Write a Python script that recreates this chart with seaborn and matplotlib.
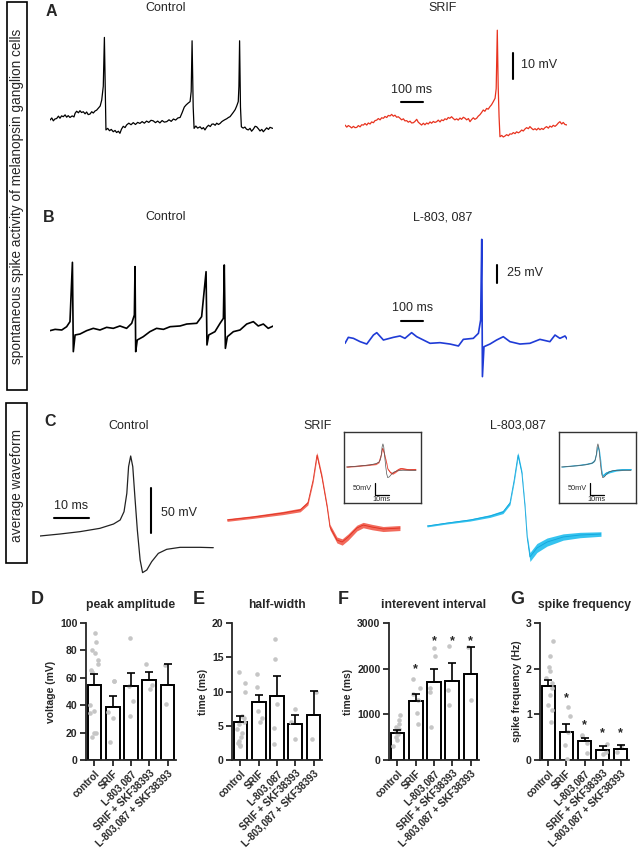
import numpy as np
import pandas as pd
import matplotlib
matplotlib.use('Agg')
import matplotlib.pyplot as plt
from matplotlib.patches import Rectangle
import seaborn as sns

# ---------------- data ----------------
# A: spontaneous spikes (time ms, membrane potential mV)
a_ctrl_t = [0, 8, 15, 22, 30, 38, 45, 52, 60, 68, 75, 82, 90, 100, 108, 113, 120, 128, 135, 142, 150,
            158, 165, 172, 180, 188, 195, 203, 210, 218, 226, 233, 240, 245, 250, 252, 260, 268, 276,
            285, 293, 300, 308, 315, 322, 330, 338, 345, 355, 365, 375, 385, 395, 405, 415, 425, 435,
            445, 455, 465, 475, 485, 495, 505, 515, 526, 536, 546, 556, 566, 576, 586, 595, 605, 613,
            622, 631, 636, 640, 645, 649, 657, 665, 676, 684, 691, 698, 706, 714, 722, 729, 736, 744,
            751, 759, 766, 774, 781, 789, 796, 804, 811, 819, 826, 834, 841, 848, 851, 854, 858, 862,
            870, 878, 885, 893, 901, 908, 916, 924, 931, 939, 946, 954, 961, 969, 976, 984, 991, 1003]
a_ctrl_v = [-60.0, -59.2, -60.3, -59.6, -59.4, -58.5, -59.3, -58.4, -58.7, -58.0, -58.9, -58.3, -59.0,
            -58.4, -58.8, -57.4, -56.6, -57.2, -56.4, -57.1, -56.8, -57.6, -56.9, -57.9, -57.7, -56.8,
            -57.3, -56.5, -56.2, -55.4, -54.6, -52.3, -47.0, -28.2, -55.0, -63.8, -63.2, -64.1, -63.6,
            -64.5, -64.0, -64.8, -64.3, -65.1, -63.5, -62.4, -62.9, -61.9, -61.2, -61.8, -61.0, -61.7,
            -60.9, -61.3, -60.6, -61.2, -60.4, -60.9, -60.1, -60.3, -61.0, -60.4, -61.1, -60.2, -60.8,
            -60.6, -59.9, -60.5, -59.6, -60.0, -59.2, -59.0, -57.2, -55.0, -54.2, -53.5, -52.9, -49.0,
            -29.5, -55.0, -63.2, -62.3, -63.1, -62.6, -63.4, -62.9, -63.8, -62.7, -62.0, -62.5, -61.6,
            -61.5, -62.0, -61.2, -61.7, -61.3, -60.6, -60.2, -59.8, -59.5, -59.0, -58.7, -57.8, -57.0,
            -56.0, -54.6, -52.9, -47.0, -29.5, -55.0, -62.6, -63.1, -62.7, -63.5, -63.8, -63.2, -64.3,
            -63.5, -62.4, -62.6, -63.4, -64.2, -63.6, -64.5, -63.7, -63.0, -63.6, -62.8, -63.2]
a_srif_t = [0, 8, 15, 23, 30, 38, 45, 53, 60, 68, 75, 83, 90, 98, 105, 113, 120, 128, 135, 143, 150,
            158, 165, 173, 180, 188, 195, 203, 210, 218, 225, 233, 240, 248, 255, 263, 270, 278, 285,
            293, 300, 308, 315, 323, 330, 338, 345, 353, 360, 368, 375, 383, 390, 398, 405, 413, 420,
            428, 435, 443, 450, 458, 465, 472, 480, 488, 495, 503, 510, 518, 525, 533, 541, 548, 556,
            563, 570, 578, 585, 593, 600, 608, 615, 623, 630, 638, 645, 653, 660, 668, 676, 681, 686,
            690, 694, 698, 706, 713, 721, 728, 736, 743, 751, 758, 766, 773, 781, 788, 796, 803, 811,
            818, 826, 833, 841, 848, 856, 863, 871, 878, 886, 893, 901, 908, 916, 923, 931, 938, 946,
            953, 961, 968, 976, 983, 991, 1002]
a_srif_v = [-60.0, -60.8, -60.2, -60.6, -61.1, -60.5, -61.0, -60.9, -60.2, -60.7, -59.9, -60.0, -59.4,
            -60.0, -59.2, -59.6, -58.8, -59.1, -58.3, -58.1, -57.5, -58.0, -57.2, -57.4, -56.7, -57.1,
            -56.3, -56.5, -55.9, -56.6, -56.2, -57.0, -56.8, -57.4, -58.0, -57.6, -58.4, -58.3, -58.9,
            -58.5, -59.2, -59.1, -58.6, -57.8, -58.9, -59.5, -60.0, -59.3, -59.9, -59.2, -59.6, -58.8,
            -59.3, -58.6, -59.0, -58.7, -58.1, -58.8, -58.0, -58.3, -57.6, -57.9, -57.1, -57.4, -56.8,
            -57.5, -58.0, -57.6, -58.1, -57.3, -57.8, -57.0, -57.4, -58.0, -57.5, -58.7, -57.9, -57.2,
            -57.8, -57.4, -56.6, -56.0, -55.2, -54.2, -54.7, -53.6, -53.9, -52.9, -52.2, -51.0, -49.7,
            -46.0, -23.5, -45.0, -56.8, -64.5, -64.0, -64.6, -64.2, -63.7, -64.1, -63.4, -63.5, -62.9,
            -63.3, -62.6, -63.0, -62.6, -61.9, -62.3, -61.5, -61.0, -61.4, -60.6, -61.3, -61.8, -61.4,
            -61.9, -61.2, -61.8, -61.3, -61.7, -61.0, -60.6, -61.2, -60.4, -60.8, -60.1, -60.5, -60.0,
            -59.2, -58.7, -59.6, -59.0, -59.8, -60.0]

# B
b_ctrl_t = [0, 23, 53, 75, 90, 101, 105, 113, 135, 165, 195, 225, 255, 285, 315, 345, 368, 380, 383,
            386, 393, 420, 450, 480, 511, 541, 586, 616, 661, 683, 703, 707, 715, 743, 766, 781, 785,
            790, 799, 826, 856, 886, 916, 938, 961, 983, 1006]
b_ctrl_v = [-60.9, -59.1, -60.0, -55.4, -48.4, 34.0, -90.1, -66.9, -65.6, -60.9, -57.7, -60.0, -56.3,
            -57.7, -54.4, -57.7, -50.7, -39.2, 28.0, -90.1, -73.9, -69.3, -62.3, -57.7, -59.1, -55.4,
            -54.4, -51.7, -50.7, -41.5, 21.0, -80.8, -66.9, -62.3, -50.7, -43.8, 30.3, -85.5, -69.3,
            -62.3, -60.0, -51.7, -48.4, -54.4, -51.7, -57.7, -54.4]
b_l803_t = [0, 15, 38, 68, 98, 128, 143, 173, 218, 248, 270, 300, 323, 353, 383, 428, 473, 511, 533,
            578, 601, 611, 616, 619, 626, 653, 683, 713, 743, 788, 833, 878, 923, 946, 968, 991, 1002]
b_l803_v = [-64.6, -56.3, -57.7, -62.3, -65.6, -53.1, -49.8, -60.0, -56.3, -54.4, -57.7, -49.8, -55.4,
            -60.0, -64.6, -63.7, -65.6, -68.3, -59.1, -57.7, -50.7, -32.2, 79.8, -110.9, -69.3, -65.6,
            -60.0, -55.4, -62.3, -65.6, -64.6, -59.1, -62.3, -53.1, -57.7, -54.4, -59.1]

# C: average waveforms (mean, SEM)
c_ctrl_t = [0, 5.7, 11.4, 17.1, 21.0, 22.9, 24.0, 24.8, 25.3, 25.9, 26.5, 27.1, 27.8, 28.6, 29.3,
            30.5, 31.9, 33.8, 36.2, 40.0, 45.7, 49.5]
c_ctrl_v = [-60, -57.8, -55.2, -51.5, -46.7, -42.2, -33.0, -12.6, 17.0, 28.9, 17.0, -16.3, -53.3,
            -86.7, -100.7, -97.8, -88.5, -79.3, -74.8, -72.6, -72.6, -73.0]
c_srif_t = [0, 7.4, 16.0, 20.9, 23.1, 24.6, 25.7, 27.1, 28.6, 29.4, 31.4, 32.9, 34.6, 37.1, 38.9,
            41.4, 44.6, 49.4]
c_srif_v = [-60, -56.7, -52.2, -48.9, -41.1, -15.6, 12.2, -12.2, -45.6, -67.8, -82.2, -84.4, -78.9,
            -68.9, -65.6, -67.8, -70.0, -68.9]
c_srif_sem = [1.5, 1.5, 1.8, 2.0, 2.2, 2.5, 3.0, 3.0, 2.8, 3.0, 3.3, 3.5, 3.5, 3.2, 3.0, 3.0, 2.8, 2.8]
c_l803_t = [0, 5.7, 12.3, 18.0, 21.7, 23.7, 24.9, 26.0, 27.1, 28.0, 28.6, 29.4, 31.4, 34.3, 38.9,
            43.7, 49.7]
c_l803_v = [-60, -56.7, -53.3, -48.9, -44.4, -34.4, -8.9, 18.9, -1.1, -38.9, -72.2, -94.4, -84.4,
            -77.8, -72.2, -70.0, -68.9]
c_l803_sem = [1.0, 1.0, 1.2, 1.5, 1.8, 2.0, 2.5, 3.0, 2.5, 2.5, 3.0, 5.0, 5.0, 4.5, 3.5, 3.0, 2.5]

# D-G: bar summaries
groups = ["control", "SRIF", "L-803,087", "SRIF + SKF38393", "L-803,087 + SKF38393"]

amp_mean = [55, 38.5, 54, 58.5, 55]
amp_sem = [7.5, 8.5, 9.5, 6, 15]
amp_pts = [[93, 86, 80, 78, 73, 70, 66, 64, 40, 36, 34, 20, 20, 17],
           [58, 58, 35, 31, 13], [89, 54, 43, 32], [70, 52, 55], [41, 69]]

hw_mean = [5.5, 8.4, 9.4, 5.3, 6.5]
hw_sem = [0.9, 1.1, 2.9, 1.3, 3.6]
hw_pts = [[12.9, 11.3, 10, 6.4, 6.1, 5.5, 5.3, 4.5, 3.9, 3.3, 2.8, 2.5, 2.2, 2.0],
          [12.6, 10.6, 7.1, 6.1, 5.6], [17.6, 14.7, 8.2, 4.7, 2.4], [7.4, 5.5, 3.0], [3.0, 10.0]]

iei_mean = [600, 1300, 1700, 1730, 1890]
iei_sem = [55, 155, 300, 395, 585]
iei_pts = [[980, 870, 790, 730, 670, 620, 580, 510, 440, 310],
           [1780, 1570, 1450, 1310, 1020, 790], [2460, 2280, 1570, 1500, 730],
           [2490, 1540, 1200], [1310, 2470]]
iei_stars = [None, 1980, 2610, 2610, 2610]

freq_mean = [1.61, 0.61, 0.41, 0.22, 0.24]
freq_sem = [0.14, 0.17, 0.07, 0.09, 0.09]
freq_pts = [[2.6, 2.28, 2.03, 1.94, 1.8, 1.68, 1.57, 1.43, 1.21, 1.1, 0.84],
            [1.17, 0.97, 0.62, 0.33, 0.02], [0.55, 0.53, 0.37, 0.16], [0.35, 0.18, 0.13], [0.18, 0.31]]
freq_stars = [None, 1.35, 0.77, 0.58, 0.58]

# ---------------- style ----------------
sns.set_style('ticks')
plt.rcParams['font.family'] = ['Liberation Sans', 'DejaVu Sans']

W, H = 644, 852
fig = plt.figure(figsize=(W / 100, H / 100), dpi=100)


def px_axes(x0, y0, x1, y1):
    return fig.add_axes([x0 / W, 1 - y1 / H, (x1 - x0) / W, (y1 - y0) / H])


def ftext(x, y, s, **kw):
    fig.text(x / W, 1 - y / H, s, **kw)


def trace_ax(box, xlim, ylim):
    ax = px_axes(*box)
    ax.set_xlim(*xlim)
    ax.set_ylim(*ylim)
    ax.axis('off')
    return ax


# side boxes
for (x0, y0, x1, y1), label, yc in [((7, 2, 27, 390), 'spontaneous spike activity of melanopsin ganglion cells', 196),
                                    ((6, 403, 27, 563), 'average waveform', 485)]:
    fig.add_artist(Rectangle((x0 / W, 1 - y1 / H), (x1 - x0) / W, (y1 - y0) / H,
                             transform=fig.transFigure, fill=False, lw=1.2, ec='black'))
    ftext(17, yc, label, rotation=90, ha='center', va='center', fontsize=9.8)

# ---------------- A ----------------
ftext(51, 12, 'A', fontsize=11.5, fontweight='bold', ha='center', va='center')
ftext(166, 8, 'Control', fontsize=9, ha='center', va='center')
ftext(443, 8, 'SRIF', fontsize=9, ha='center', va='center')
ax = trace_ax((50, 20, 273, 145), (0, 1004.5), (-69.6, -21.5))
sns.lineplot(x=a_ctrl_t, y=a_ctrl_v, ax=ax, color='black', lw=0.9, estimator=None, sort=False)
ax = trace_ax((345, 25, 567, 150), (0, 1000), (-69.6, -21.5))
sns.lineplot(x=a_srif_t, y=a_srif_v, ax=ax, color='#e8321e', lw=0.9, estimator=None, sort=False)
ax.plot([252, 352], [-51.2, -51.2], color='black', lw=1.5)
ax.text(300, -46.5, '100 ms', ha='center', va='center', fontsize=9)
ax.plot([757, 757], [-42.3, -32.3], color='black', lw=1.5)
ax.text(791, -36.9, '10 mV', ha='left', va='center', fontsize=9)

# ---------------- B ----------------
ftext(49, 217, 'B', fontsize=11.5, fontweight='bold', ha='center', va='center')
ftext(166, 217, 'Control', fontsize=9, ha='center', va='center')
ftext(443, 217, 'L-803, 087', fontsize=9, ha='center', va='center')
ax = trace_ax((50, 250, 273, 365), (0, 1004.5), (-108.6, 51.1))
sns.lineplot(x=b_ctrl_t, y=b_ctrl_v, ax=ax, color='black', lw=1.2, estimator=None, sort=False)
ax = trace_ax((345, 230, 567, 385), (0, 1000), (-122.5, 92.8))
sns.lineplot(x=b_l803_t, y=b_l803_v, ax=ax, color='#1f3bd6', lw=1.2, estimator=None, sort=False)
ax.plot([250, 350], [-33.6, -33.6], color='black', lw=1.5)
ax.text(306, -16, '100 ms', ha='center', va='center', fontsize=9)
ax.plot([685, 685], [19.2, 44.2], color='black', lw=1.5)
ax.text(728, 33.5, '25 mV', ha='left', va='center', fontsize=9)

# ---------------- C ----------------
ftext(50, 422, 'C', fontsize=11.5, fontweight='bold', ha='center', va='center')
ftext(129, 426, 'Control', fontsize=9, ha='center', va='center')
ftext(318, 426, 'SRIF', fontsize=9, ha='center', va='center')
ftext(518, 426, 'L-803,087', fontsize=9, ha='center', va='center')

ax = trace_ax((40, 445, 214, 580), (0, 49.7), (-108.9, 41.1))
sns.lineplot(x=c_ctrl_t, y=c_ctrl_v, ax=ax, color='#222222', lw=0.9, estimator=None, sort=False)
ax.plot([4, 14], [-40, -40], color='black', lw=1.5)
ax.text(8.8, -26.7, '10 ms', ha='center', va='center', fontsize=9)
ax.plot([31.7, 31.7], [-56.7, -6.7], color='black', lw=1.5)
ax.text(34.5, -34.1, '50 mV', ha='left', va='center', fontsize=9)


def band(ax, t, v, sem, fill, line, lw=0.6):
    t, v, sem = np.array(t), np.array(v), np.array(sem)
    ax.fill_between(t, v - sem, v + sem, color=fill, lw=0)
    sns.lineplot(x=t, y=v, ax=ax, color=line, lw=lw, estimator=None, sort=False)


ax = trace_ax((227, 445, 401, 560), (0, 49.7), (-104.4, 23.3))
band(ax, c_srif_t, c_srif_v, c_srif_sem, '#f26a5c', '#e0301f')
ax = trace_ax((427, 445, 601, 565), (0, 49.7), (-103.3, 30.0))
band(ax, c_l803_t, c_l803_v, c_l803_sem, '#35c3ef', '#12a6dc')

# insets
for box, t, v, sem, fill, line in [((344, 432, 421, 503), c_srif_t, c_srif_v, c_srif_sem, '#f26a5c', '#e0301f'),
                                   ((559, 432, 636, 503), c_l803_t, c_l803_v, c_l803_sem, '#35c3ef', '#12a6dc')]:
    ax = px_axes(*box)
    ax.set_xlim(-1.9, 53.1)
    ax.set_ylim(-198.5, 74.6)
    ax.set_xticks([])
    ax.set_yticks([])
    for sp in ax.spines.values():
        sp.set_visible(True)
        sp.set_linewidth(1.0)
        sp.set_color('#333333')
    band(ax, t, v, sem, fill, line, lw=0.5)
    ax.plot(c_ctrl_t, c_ctrl_v, color='#555555', lw=0.5)
    ax.plot([20.2, 20.2, 30.2], [-121.5, -166.5, -166.5], color='black', lw=0.9)
    ax.text(17.9, -141, '50mV', ha='right', va='center', fontsize=5.3)
    ax.text(25.2, -172, '10ms', ha='center', va='top', fontsize=5.3)


# ---------------- D-G ----------------
def bar_panel(box, means, sems, pts, ymax, ystep, ylabel, title, stars=None):
    ax = px_axes(*box)
    df_m = pd.DataFrame({'group': groups, 'value': means})
    sns.barplot(data=df_m, x='group', y='value', order=groups, color='white', edgecolor='black',
                linewidth=1.4, width=0.75, errorbar=None, ax=ax, zorder=2)
    rows = [(g, val) for g, vals in zip(groups, pts) for val in vals]
    df_p = pd.DataFrame(rows, columns=['group', 'value'])
    sns.stripplot(data=df_p, x='group', y='value', order=groups, color='#c6c6c6', size=3.3,
                  jitter=0.26, ax=ax, zorder=3)
    ax.errorbar(np.arange(len(groups)), means, yerr=[np.zeros(len(groups)), sems], fmt='none',
                ecolor='black', elinewidth=1.2, capsize=3, capthick=1.2, zorder=4)
    if stars:
        for i, s in enumerate(stars):
            if s is not None:
                ax.text(i, s, '*', ha='center', va='center', fontsize=9, fontweight='bold')
    ax.set_xlim(-0.46, 4.46)
    ax.set_ylim(0, ymax)
    ax.set_yticks(np.arange(0, ymax + ystep / 2, ystep))
    ax.set_xticks(range(len(groups)))
    ax.set_xticklabels(groups, rotation=45, ha='right', rotation_mode='anchor',
                       fontweight='bold', fontsize=7.1)
    for lab in ax.get_yticklabels():
        lab.set_fontweight('bold')
        lab.set_fontsize(7.6)
    ax.set_xlabel('')
    ax.set_ylabel(ylabel, fontweight='bold', fontsize=7.5, labelpad=3)
    ax.set_title(title, fontweight='bold', fontsize=8.7, pad=11)
    sns.despine(ax=ax)
    for sp in ['left', 'bottom']:
        ax.spines[sp].set_linewidth(1.3)
    ax.tick_params(axis='both', direction='out', length=4, width=1.3, pad=2)
    return ax


np.random.seed(3)
bar_panel((86, 623, 176, 760), amp_mean, amp_sem, amp_pts, 100, 20, 'voltage (mV)', 'peak amplitude')
bar_panel((232, 623, 322, 760), hw_mean, hw_sem, hw_pts, 20, 5, 'time (ms)', 'half-width')
bar_panel((389, 623, 479, 760), iei_mean, iei_sem, iei_pts, 3000, 1000, 'time (ms)', 'interevent interval',
          iei_stars)
bar_panel((540, 623, 629, 760), freq_mean, freq_sem, freq_pts, 3, 1, 'spike frequency (Hz)', 'spike frequency',
          freq_stars)

ftext(37, 600, 'D', fontsize=13, fontweight='bold', ha='center', va='center')
ftext(199, 600, 'E', fontsize=13, fontweight='bold', ha='center', va='center')
ftext(343, 599, 'F', fontsize=13, fontweight='bold', ha='center', va='center')
ftext(517, 599, 'G', fontsize=13, fontweight='bold', ha='center', va='center')

fig.savefig('out.png', dpi=100)
